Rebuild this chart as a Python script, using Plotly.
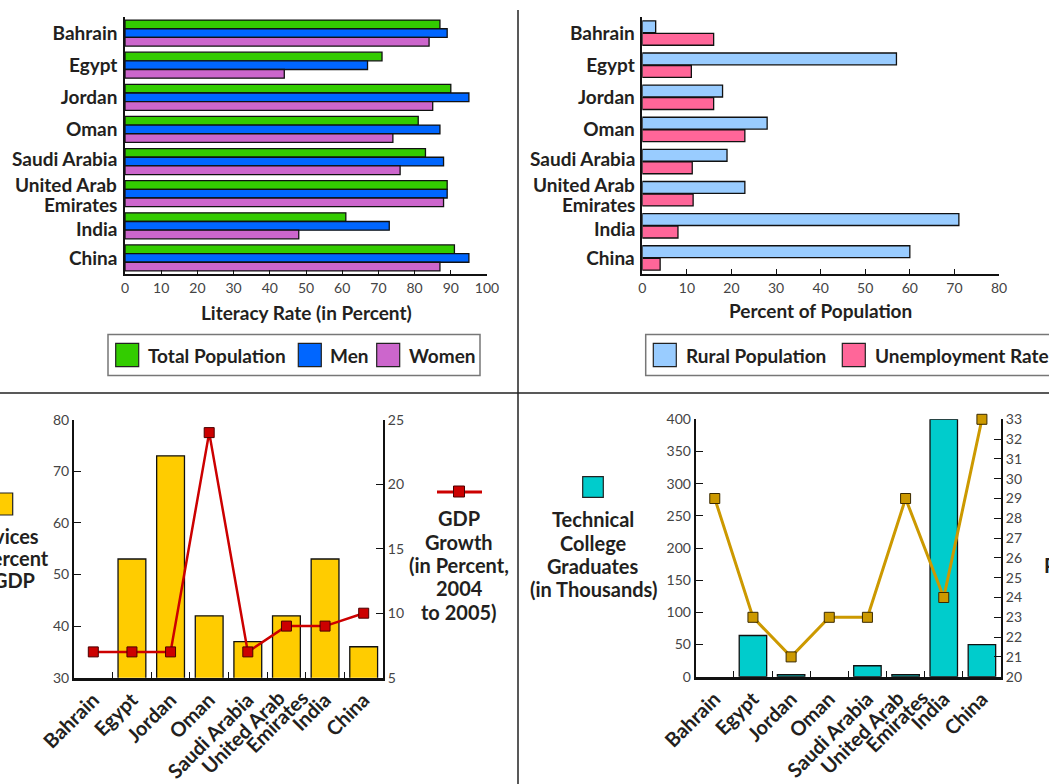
import plotly.graph_objects as go

W, H = 1049, 784

# ---- data -------------------------------------------------------------
countries = ["Bahrain", "Egypt", "Jordan", "Oman", "Saudi Arabia",
             "United Arab Emirates", "India", "China"]
uae_lines = ["United Arab", "Emirates"]

literacy_total = [87, 71, 90, 81, 83, 89, 61, 91]
literacy_men = [89, 67, 95, 87, 88, 89, 73, 95]
literacy_women = [84, 44, 85, 74, 76, 88, 48, 87]

rural_population = [3, 57, 18, 28, 19, 23, 71, 60]
unemployment_rate = [16, 11, 16, 23, 11.2, 11.4, 8, 4]

services_pct_gdp = [None, 53, 73, 42, 37, 42, 53, 36]
gdp_growth = [7, 7, 7, 24, 7, 9, 9, 10]

tech_graduates = [None, 64, 3, None, 17, 3, 400, 50]
median_age = [29, 23, 21, 23, 23, 29, 24, 33]

literacy_ticks = list(range(0, 101, 10))
population_ticks = list(range(0, 81, 10))

# names that are placed by hand (spread a little around the two-line label)
hbar_manual = {"Saudi Arabia", "United Arab Emirates", "India"}
hbar_ticktext = ["" if c in hbar_manual else c for c in countries]
col_ticktext = ["" if c == "United Arab Emirates" else c for c in countries]

# ---- style ------------------------------------------------------------
FONT = "Lato"
INK = "#231f20"
TICK_INK = "#444444"
OUTLINE = dict(color="#111111", width=1.3)


def px(x):
    return x / W


def py(y):
    return 1 - y / H


label_font = dict(family=FONT, size=19, color=INK, weight=700)
rot_font = dict(family=FONT, size=20, color=INK, weight=700)
tick_font = dict(family=FONT, size=14, color=TICK_INK)
title_font = dict(family=FONT, size=19, color=INK, weight=700)
block_font = dict(family=FONT, size=20, color=INK, weight=700)

fig = go.Figure()

# ---- panel 1: literacy rate -------------------------------------------
bw = 0.27
for vals, name, col, off in [
    (literacy_total, "Total Population", "#33cc00", -1.5 * bw),
    (literacy_men, "Men", "#0066ff", -0.5 * bw),
    (literacy_women, "Women", "#cc66cc", 0.5 * bw),
]:
    fig.add_trace(go.Bar(x=vals, y=countries, orientation="h", name=name,
                         marker=dict(color=col, line=OUTLINE),
                         width=bw, offset=off, xaxis="x", yaxis="y",
                         showlegend=False))

# ---- panel 2: rural population & unemployment -------------------------
for vals, name, col, off in [
    (rural_population, "Rural Population", "#99ccff", -0.38),
    (unemployment_rate, "Unemployment Rate", "#ff6699", 0.01),
]:
    fig.add_trace(go.Bar(x=vals, y=countries, orientation="h", name=name,
                         marker=dict(color=col, line=OUTLINE),
                         width=0.37, offset=off, xaxis="x2", yaxis="y2",
                         showlegend=False))

# ---- panel 3: services share & GDP growth -----------------------------
fig.add_trace(go.Bar(x=countries, y=services_pct_gdp, name="Services",
                     marker=dict(color="#ffcc00", line=OUTLINE),
                     width=0.72, offset=-0.36, xaxis="x3", yaxis="y3",
                     showlegend=False))
fig.add_trace(go.Scatter(x=countries, y=gdp_growth, mode="lines+markers",
                         name="GDP Growth",
                         line=dict(color="#cc0000", width=2.5),
                         marker=dict(symbol="square", size=10, color="#cc0000",
                                     line=dict(color="#4a0000", width=1)),
                         cliponaxis=False, xaxis="x3", yaxis="y4",
                         showlegend=False))

# ---- panel 4: technical graduates & median age ------------------------
fig.add_trace(go.Bar(x=countries, y=tech_graduates, name="Technical College Graduates",
                     marker=dict(color="#00cccc", line=OUTLINE),
                     width=0.72, offset=-0.36, xaxis="x4", yaxis="y5",
                     showlegend=False))
fig.add_trace(go.Scatter(x=countries, y=median_age, mode="lines+markers",
                         name="Median Age",
                         line=dict(color="#cc9900", width=3),
                         marker=dict(symbol="square", size=10, color="#cc9900",
                                     line=dict(color="#3a2a00", width=1)),
                         cliponaxis=False, xaxis="x4", yaxis="y6",
                         showlegend=False))

# ---- axes -------------------------------------------------------------
base_axis = dict(showgrid=False, zeroline=False, showline=True, automargin=False,
                 linecolor="#111111", tickcolor="#111111", tickfont=tick_font)

hbar_y = dict(base_axis, type="category", categoryorder="array",
              categoryarray=countries, tickvals=countries, ticktext=hbar_ticktext,
              range=[7.5, -0.5], ticks="", linewidth=1.5, tickfont=label_font,
              ticklabelstandoff=2, domain=[py(274), py(17)])

cat_x = dict(base_axis, type="category", categoryorder="array",
             categoryarray=countries, tickvals=countries, ticktext=col_ticktext,
             range=[-0.5, 7.5], tickson="boundaries", ticks="inside",
             ticklen=6, linewidth=2.5, tickangle=-45, tickfont=rot_font)

fig.update_layout(
    xaxis=dict(base_axis, domain=[px(125), px(487)], range=[0, 100],
               tickvals=literacy_ticks, ticks="inside", ticklen=4,
               linewidth=1.5, anchor="y"),
    yaxis=dict(hbar_y, anchor="x"),
    xaxis2=dict(base_axis, domain=[px(642.3), px(999)], range=[0, 80],
                tickvals=population_ticks, ticks="inside", ticklen=5,
                linewidth=1.5, anchor="y2"),
    yaxis2=dict(hbar_y, anchor="x2"),
    xaxis3=dict(cat_x, domain=[px(74), px(383)], anchor="y3"),
    yaxis3=dict(base_axis, domain=[py(677.7), py(419.7)], range=[30, 80],
                dtick=10, ticks="inside", ticklen=7, linewidth=2, anchor="x3"),
    yaxis4=dict(base_axis, overlaying="y3", side="right", range=[5, 25],
                dtick=5, ticks="inside", ticklen=7, linewidth=2, anchor="x3"),
    xaxis4=dict(cat_x, domain=[px(695.7), px(1001)], anchor="y5"),
    yaxis5=dict(base_axis, domain=[py(676.7), py(419.3)], range=[0, 400],
                dtick=50, ticks="inside", ticklen=7, linewidth=2, anchor="x4"),
    yaxis6=dict(base_axis, overlaying="y5", side="right", range=[20, 33],
                dtick=1, ticks="inside", ticklen=7, linewidth=2, anchor="x4"),
    barmode="overlay",
)

# ---- legends, titles and frame ----------------------------------------
shapes = []
annotations = []


def box(x0, y0, x1, y1, fill="rgba(0,0,0,0)", line="#777777", lw=1.5):
    shapes.append(dict(type="rect", xref="paper", yref="paper",
                       x0=px(x0), x1=px(x1), y0=py(y1), y1=py(y0),
                       fillcolor=fill, line=dict(color=line, width=lw),
                       layer="above"))


def text(x, y, s, xanchor="center", font=None, yanchor="middle", angle=0):
    annotations.append(dict(xref="paper", yref="paper", x=px(x), y=py(y),
                            text=s, showarrow=False, xanchor=xanchor,
                            yanchor=yanchor, textangle=angle, borderpad=0,
                            font=font or label_font))


def lines(x, ys, parts, font=block_font, xanchor="center"):
    for y, s in zip(ys, parts):
        text(x, y, s, font=font, xanchor=xanchor)


# hand-placed country names on the horizontal bar charts
for x_right in (118, 635.7):
    lines(x_right, [158, 184, 204, 228],
          ["Saudi Arabia", uae_lines[0], uae_lines[1], "India"],
          font=label_font, xanchor="right")

# two-line country name on the rotated category axes
for x_anchor in (290, 909.5):
    text(x_anchor, 684, uae_lines[0], xanchor="right", yanchor="top",
         font=rot_font, angle=-45)
    text(x_anchor + 24, 684, uae_lines[1], xanchor="right", yanchor="top",
         font=rot_font, angle=-45)

# panel dividers
shapes.append(dict(type="line", xref="paper", yref="paper", x0=0, x1=1,
                   y0=py(393), y1=py(393), line=dict(color="#222222", width=1.5)))
shapes.append(dict(type="line", xref="paper", yref="paper", x0=px(518),
                   x1=px(518), y0=py(10), y1=0, line=dict(color="#222222", width=1.5)))

# panel 1 axis title + legend
text(306, 312, "Literacy Rate (in Percent)", font=title_font)
box(108, 334.5, 480, 375.5)
for x0, col, label in [(115.7, "#33cc00", "Total Population"),
                       (298.3, "#0066ff", "Men"),
                       (376.7, "#cc66cc", "Women")]:
    box(x0, 343.3, x0 + 23, 366.7, fill=col, line="#222222", lw=1.2)
    text(x0 + 31, 355, label, xanchor="left")

# panel 2 axis title + legend
text(820, 311, "Percent of Population", font=title_font)
box(645.7, 334.5, 1060, 375.5)
for x0, col, label in [(653.3, "#99ccff", "Rural Population"),
                       (842.3, "#ff6699", "Unemployment Rate")]:
    box(x0, 343.3, x0 + 23, 366.7, fill=col, line="#222222", lw=1.2)
    text(x0 + 32, 355, label, xanchor="left")

# panel 3 legends
box(-9.3, 493, 12.7, 515, fill="#ffcc00", line="#222222", lw=1.2)
lines(2, [536, 558, 580], ["Services", "as Percent", "of GDP"])
shapes.append(dict(type="line", xref="paper", yref="paper", x0=px(437),
                   x1=px(482), y0=py(492), y1=py(492),
                   line=dict(color="#cc0000", width=3)))
box(453.5, 486, 464.5, 497, fill="#cc0000", line="#4a0000", lw=1)
lines(459, [518, 542, 565, 588, 612],
      ["GDP", "Growth", "(in Percent,", "2004", "to 2005)"])

# panel 4 legends
box(582.7, 476.7, 603.3, 497.3, fill="#00cccc", line="#222222", lw=1.2)
lines(593, [519.3, 542.7, 565.7, 588.7],
      ["Technical", "College", "Graduates", "(in Thousands)"])
text(1043, 565, "Population Median Age", xanchor="left", font=block_font)

fig.update_layout(
    width=W, height=H, margin=dict(l=0, r=0, t=0, b=0, autoexpand=False),
    paper_bgcolor="white", plot_bgcolor="rgba(0,0,0,0)",
    shapes=shapes, annotations=annotations, showlegend=False,
    font=dict(family=FONT, color=INK),
)

fig.write_html("out.html")
